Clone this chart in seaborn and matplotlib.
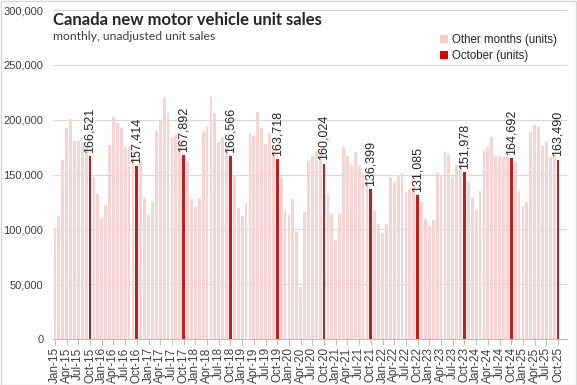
import matplotlib
matplotlib.use("Agg")
import matplotlib.pyplot as plt
from matplotlib.patches import Patch, Rectangle
import seaborn as sns
import pandas as pd

# ---- data (units, Jan..Dec, last year to Oct) ----
sales_2015 = [101200, 111800, 163600, 192100, 200600, 180900, 180900, 178800, 176100, 166521, 147300, 131800]
sales_2016 = [110300, 121800, 177300, 202700, 197300, 192700, 175400, 174800, 172700, 157414, 162700, 128500]
sales_2017 = [112700, 124500, 190000, 199700, 219400, 206300, 183900, 186300, 180000, 167892, 161200, 127300]
sales_2018 = [120000, 128200, 190000, 194200, 220300, 206000, 179400, 184500, 176300, 166566, 149700, 119400]
sales_2019 = [111800, 123600, 187600, 185400, 207300, 192700, 177500, 187600, 172400, 163718, 146600, 116400]
sales_2020 = [112700, 127300, 97500, 47600, 115400, 162700, 167300, 171800, 173000, 160024, 132400, 113600]
sales_2021 = [90600, 114300, 175400, 167300, 158800, 170300, 157300, 150600, 144500, 136399, 116400, 104500]
sales_2022 = [96600, 105200, 146600, 143000, 149100, 151800, 133600, 136600, 139100, 131085, 124500, 109700]
sales_2023 = [103000, 108800, 151800, 149700, 170300, 168200, 147300, 159100, 162400, 151978, 143600, 128500]
sales_2024 = [117300, 135400, 172700, 175400, 184500, 166300, 167300, 165700, 166300, 164692, 161200, 134500]
sales_2025 = [120900, 124500, 188400, 195100, 193600, 176300, 179400, 165700, 168200, 163490]

years = [2015, 2016, 2017, 2018, 2019, 2020, 2021, 2022, 2023, 2024, 2025]
month_names = ["Jan", "Feb", "Mar", "Apr", "May", "Jun", "Jul", "Aug", "Sep", "Oct", "Nov", "Dec"]
yearly = [sales_2015, sales_2016, sales_2017, sales_2018, sales_2019, sales_2020,
          sales_2021, sales_2022, sales_2023, sales_2024, sales_2025]

series_other = "Other months (units)"
series_oct = "October (units)"
color_other = "#FFCCCC"
color_oct = "#E30000"

rows = []
for yr, vals in zip(years, yearly):
    for m, v in enumerate(vals):
        rows.append({"month": f"{month_names[m]}-{str(yr)[2:]}", "sales": v,
                     "type": series_oct if m == 9 else series_other})
df = pd.DataFrame(rows)
order = list(df["month"])

sns.set_theme(style="white")
plt.rcParams["font.family"] = ["Liberation Sans", "DejaVu Sans"]

fig = plt.figure(figsize=(5.77, 3.85), dpi=100)
ax = fig.add_axes([53 / 577, 46 / 385, (567 - 53) / 577, (339 - 10) / 385])

sns.barplot(data=df, x="month", y="sales", hue="type", order=order,
            hue_order=[series_other, series_oct],
            palette={series_other: color_other, series_oct: color_oct},
            dodge=False, width=0.72, legend=False, ax=ax, zorder=3, linewidth=0)

ax.set_ylim(0, 300000)
ax.set_xlim(-0.5, 131.3)
ax.set_yticks(range(0, 300001, 50000))
ax.set_yticklabels([f"{v:,}" for v in range(0, 300001, 50000)], fontsize=8, color="#404040")
ax.grid(axis="y", color="#D9D9D9", linewidth=0.8, zorder=0)
ax.set_axisbelow(True)

tick_pos = [i for i, lab in enumerate(order) if lab[:3] in ("Jan", "Apr", "Jul", "Oct")]
ax.set_xticks(tick_pos)
ax.set_xticklabels([order[i] for i in tick_pos], rotation=90, fontsize=8.5, color="#404040")
ax.tick_params(axis="x", length=4, width=0.8, color="#BFBFBF", pad=2, bottom=True)
ax.tick_params(axis="y", length=0, pad=7)
ax.set_xlabel("")
ax.set_ylabel("")

for s in ["top", "right", "left"]:
    ax.spines[s].set_visible(False)
ax.spines["bottom"].set_color("#BFBFBF")
ax.spines["bottom"].set_linewidth(0.8)

for i, row in df.iterrows():
    if row["type"] == series_oct:
        ax.text(i, row["sales"] + 3000, f"{row['sales']:,}", rotation=90,
                ha="center", va="bottom", fontsize=9, color="#262626", zorder=5)

fig.text(53 / 577, 1 - 20 / 385, "Canada new motor vehicle unit sales", fontsize=12,
         fontweight="bold", family=["Lato", "DejaVu Sans"], color="#262626", va="center")
fig.text(53 / 577, 1 - 36 / 385, "monthly, unadjusted unit sales", fontsize=8.8,
         family=["Lato", "DejaVu Sans"], color="#404040", va="center")

handles = [Patch(facecolor=color_other, edgecolor="none"),
           Patch(facecolor=color_oct, edgecolor="none")]
ax.legend(handles, [series_other, series_oct], loc="upper left",
          bbox_to_anchor=(440 / 577, 1 - 34 / 385), bbox_transform=fig.transFigure,
          frameon=False, fontsize=8.3, handlelength=0.7, handleheight=0.7,
          handletextpad=0.3, labelspacing=0.35, borderaxespad=0, borderpad=0)

fig.add_artist(Rectangle((0.5 / 577, 0.5 / 385), 1 - 1.5 / 577, 1 - 1.5 / 385,
                         transform=fig.transFigure, fill=False, edgecolor="#D9D9D9",
                         linewidth=1))

fig.savefig("out.png", dpi=100)
